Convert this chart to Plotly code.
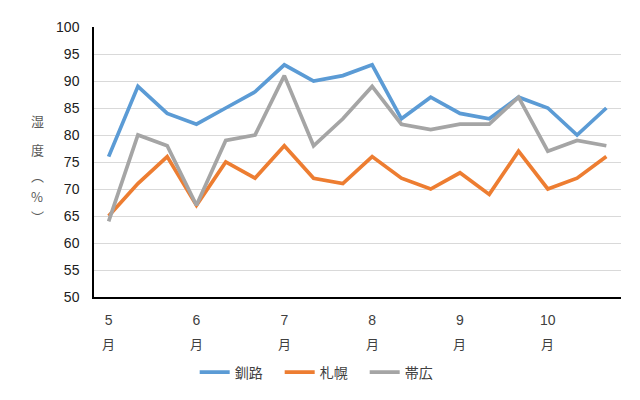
import plotly.graph_objects as go

# 旬ごとの湿度 (5月〜10月、各月3点)
periods = [f"{m}月{p}" for m in range(5, 11) for p in ("上", "中", "下")]
kushiro = [76, 89, 84, 82, 85, 88, 93, 90, 91, 93, 83, 87, 84, 83, 87, 85, 80, 85]
sapporo = [65, 71, 76, 67, 75, 72, 78, 72, 71, 76, 72, 70, 73, 69, 77, 70, 72, 76]
obihiro = [64, 80, 78, 67, 79, 80, 91, 78, 83, 89, 82, 81, 82, 82, 87, 77, 79, 78]

tick_periods = periods[::3]
month_nums = ["5", "6", "7", "8", "9", "10"]

series = [
    ("釧路", kushiro, "#5B9BD5"),
    ("札幌", sapporo, "#ED7D31"),
    ("帯広", obihiro, "#A5A5A5"),
]

fig = go.Figure()
for name, vals, color in series:
    fig.add_trace(go.Scatter(x=periods, y=vals, name=name, mode="lines",
                             line=dict(color=color, width=3.7)))

font_jp = "Noto Sans CJK JP, Noto Sans, sans-serif"
font_num = "Liberation Sans, Noto Sans, sans-serif"

# page has an 8px body margin, so the figure is a bit smaller and shifted
fig.update_layout(
    width=632, height=392,
    margin=dict(l=86, r=19, t=11, b=103),
    paper_bgcolor="white", plot_bgcolor="white",
    font=dict(family=font_jp, size=13, color="#404040"),
    showlegend=True,
    legend=dict(orientation="h", x=0.433, xanchor="center", y=-0.28, yanchor="middle",
                font=dict(size=14, color="#404040"),
                entrywidth=40, entrywidthmode="pixels"),
)
fig.update_xaxes(
    type="category", range=[-0.5, 17.5],
    tickmode="array", tickvals=tick_periods, ticktext=month_nums,
    showgrid=False, showline=True, linecolor="black", linewidth=1.5,
    ticks="", ticklabelstandoff=9,
    tickfont=dict(family=font_num, size=14, color="#404040"),
)
fig.update_yaxes(
    range=[50, 100], dtick=5,
    showgrid=True, gridcolor="#D9D9D9", gridwidth=1,
    showline=True, linecolor="black", linewidth=1.5,
    zeroline=False, ticks="", ticklabelstandoff=10,
    tickfont=dict(family=font_num, size=14, color="#202020"),
)

# second row of the month labels
for p in tick_periods:
    fig.add_annotation(text="月", x=p, xref="x", y=-0.173, yref="paper",
                       yanchor="middle", showarrow=False,
                       font=dict(size=13, color="#404040"))

# vertical y-axis title
title_chars = ["湿", "度", "︵", "%", "︶"]
title_pos = [0.655, 0.547, 0.45, 0.372, 0.30]
for ch, yp in zip(title_chars, title_pos):
    fig.add_annotation(text=ch, x=-0.108, xref="paper", y=yp, yref="paper",
                       xanchor="center", yanchor="middle", showarrow=False,
                       font=dict(size=13, color="#595959"))

fig.write_html("out.html")
